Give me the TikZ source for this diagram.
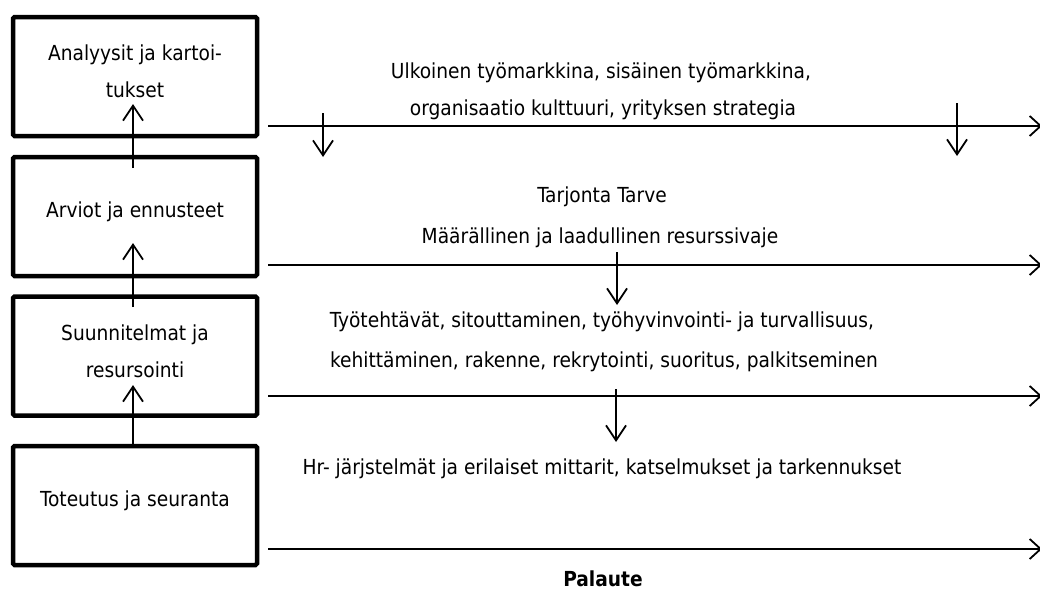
\documentclass[tikz,border=0pt]{standalone}
\usepackage{fontspec}
\setmainfont{DejaVu Sans Condensed}
\usetikzlibrary{arrows.meta}
\begin{document}
\begin{tikzpicture}[x=1pt,y=-1pt,
  stagebox/.style={draw, line width=4.5pt, rounded corners=1.5pt, minimum width=244pt, minimum height=119pt,
    align=center, inner sep=0pt, font=\fontsize{20.7}{37}\selectfont},
  txt/.style={inner sep=0pt, align=center, font=\fontsize{20.7}{25}\selectfont},
  conn/.style={line width=1.8pt, -{Straight Barb[length=15pt,width=20pt,line width=1.8pt]}},
  hline/.style={line width=2.2pt, -{Straight Barb[length=11pt,width=20pt,line width=1.8pt]}}]
\useasboundingbox (0,0) rectangle (1040,592);
% stages
\node[stagebox, text depth=10pt] (b1) at (135,76.5) {Analyysit ja kartoi-\\tukset};
\node[stagebox, text depth=14pt] (b2) at (135,216.5) {Arviot ja ennusteet};
\node[stagebox, text depth=10pt] (b3) at (135,356) {Suunnitelmat ja\\resursointi};
\node[stagebox, text depth=14pt] (b4) at (135,505.5) {Toteutus ja seuranta};
% upward arrows between stages
\coordinate (u1s) at (133,168); \coordinate (u1e) at (133,104);
\coordinate (u2s) at (133,307); \coordinate (u2e) at (133,243);
\coordinate (u3s) at (133,446); \coordinate (u3e) at (133,385);
\draw[conn] (u1s) -- (u1e);
\draw[conn] (u2s) -- (u2e);
\draw[conn] (u3s) -- (u3e);
% horizontal timelines
\coordinate (h1s) at (268,126); \coordinate (h1e) at (1042,126);
\coordinate (h2s) at (268,265); \coordinate (h2e) at (1042,265);
\coordinate (h3s) at (268,396); \coordinate (h3e) at (1042,396);
\coordinate (h4s) at (268,549); \coordinate (h4e) at (1042,549);
\draw[hline] (h1s) -- (h1e);
\draw[hline] (h2s) -- (h2e);
\draw[hline] (h3s) -- (h3e);
\draw[hline] (h4s) -- (h4e);
% downward arrows
\coordinate (d1s) at (323,113); \coordinate (d1e) at (323,157);
\coordinate (d2s) at (957,103); \coordinate (d2e) at (957,156);
\coordinate (d3s) at (617,252); \coordinate (d3e) at (617,305);
\coordinate (d4s) at (616,389); \coordinate (d4e) at (616,442);
\draw[conn] (d1s) -- (d1e);
\draw[conn] (d2s) -- (d2e);
\draw[conn] (d3s) -- (d3e);
\draw[conn] (d4s) -- (d4e);
% texts
\node[txt] (t1) at (601,73) {Ulkoinen työmarkkina, sisäinen työmarkkina,};
\node[txt] (t2) at (603,110) {organisaatio kulttuuri, yrityksen strategia};
\node[txt] (t3) at (602,197) {Tarjonta Tarve};
\node[txt] (t4) at (600,238) {Määrällinen ja laadullinen resurssivaje};
\node[txt] (t5) at (602,322) {Työtehtävät, sitouttaminen, työhyvinvointi- ja turvallisuus,};
\node[txt] (t6) at (604,362) {kehittäminen, rakenne, rekrytointi, suoritus, palkitseminen};
\node[txt] (t7) at (602,469) {Hr- järjstelmät ja erilaiset mittarit, katselmukset ja tarkennukset};
\node[txt, font=\fontsize{20.7}{25}\selectfont\bfseries] (t8) at (603,579) {Palaute};
\end{tikzpicture}
\end{document}
